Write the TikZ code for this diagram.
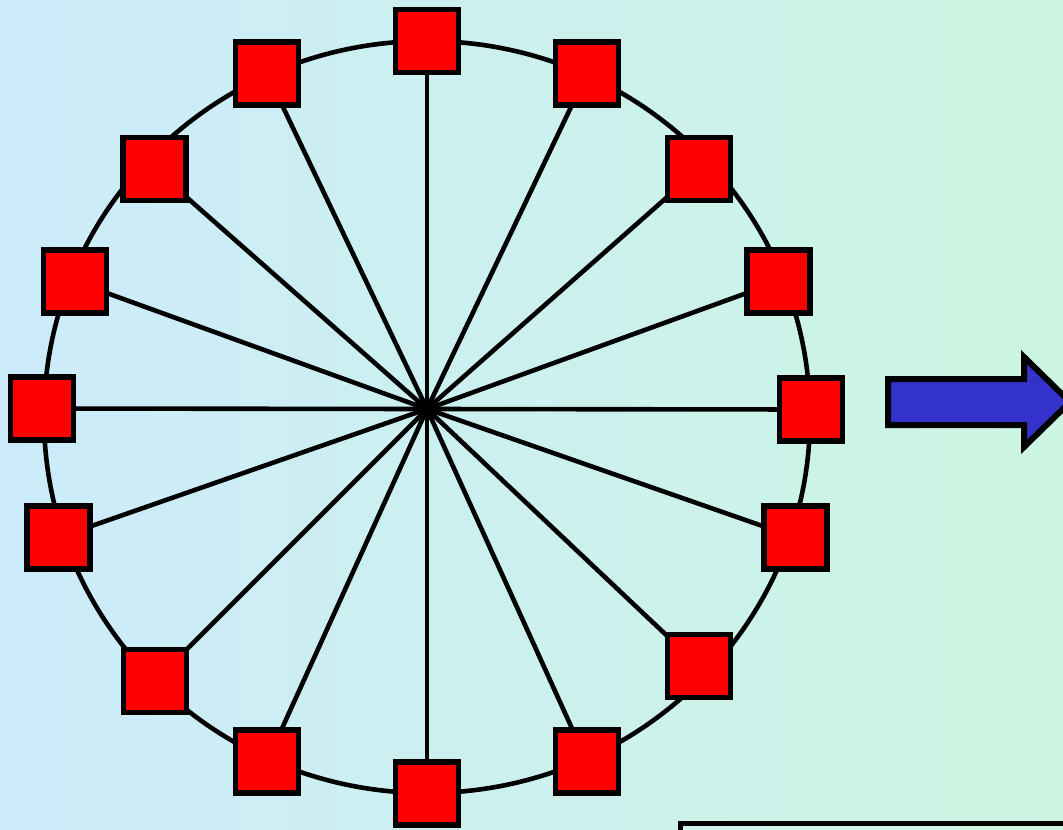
\documentclass[tikz,border=0pt]{standalone}
\usetikzlibrary{shapes.geometric}
\definecolor{bgleft}{RGB}{204,235,250}
\definecolor{bgright}{RGB}{204,246,226}
\definecolor{arrowblue}{RGB}{51,51,204}
\begin{document}
\begin{tikzpicture}[x=1pt,y=-1pt,
  sq/.style={draw=black,fill=red,line width=5.5pt,minimum size=63pt,inner sep=0pt,rectangle},
  spoke/.style={draw=black,line width=4.6pt},
  rim/.style={draw=black,line width=4.6pt}]
\clip (0,0) rectangle (1063,830);
\useasboundingbox (0,0) rectangle (1063,830);
\shade[left color=bgleft,right color=bgright] (0,0) rectangle (1063,830);
% rim
\draw[rim] (427,417) ellipse [x radius=383pt, y radius=376pt];
\coordinate (c) at (427,409);
\path
 (427,41) coordinate (p1)
 (587,73.5) coordinate (p2)
 (699,169) coordinate (p3)
 (778.5,281.5) coordinate (p4)
 (811,409.5) coordinate (p5)
 (795.5,537.5) coordinate (p6)
 (699,666) coordinate (p7)
 (587,761.5) coordinate (p8)
 (427,793.5) coordinate (p9)
 (267,761.5) coordinate (p10)
 (155,681) coordinate (p11)
 (58.5,537.5) coordinate (p12)
 (42,408.5) coordinate (p13)
 (75,281.5) coordinate (p14)
 (154.5,169) coordinate (p15)
 (267,73.5) coordinate (p16);
\foreach \i in {1,...,16}{
  \draw[spoke] (c) -- (p\i);
}
\foreach \i in {1,...,16}{
  \node[sq] (s\i) at (p\i) {};
}
% arrow
\draw[line width=6pt,fill=arrowblue,line join=miter]
  (888,379) coordinate (a1) -- (1024,379) -- (1024,357) -- (1070,402) coordinate (atip)
  -- (1024,447) -- (1024,425) -- (888,425) -- cycle;
% bottom box
\draw[line width=5pt] (680,823) coordinate (b1) rectangle (1080,900);
\end{tikzpicture}
\end{document}
